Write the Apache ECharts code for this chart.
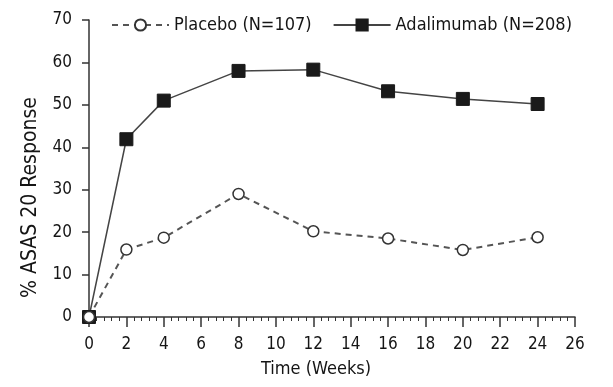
<!DOCTYPE html>
<html>
<head>
<meta charset="utf-8">
<script src="https://cdn.jsdelivr.net/npm/echarts@6/dist/echarts.min.js"></script>
<style>
html,body{margin:0;padding:0;background:#fff;}
#chart{width:613px;height:387px;}
</style>
</head>
<body>
<div id="chart"></div>
<script>
var weeks = [0, 2, 4, 8, 12, 16, 20, 24];
var placebo = [0, 15.9, 18.7, 29.0, 20.2, 18.5, 15.8, 18.8];
var adalimumab = [0, 41.9, 51.0, 58.0, 58.3, 53.2, 51.4, 50.2];
var seriesNames = ['Placebo (N=107)', 'Adalimumab (N=208)'];
var xTitle = 'Time (Weeks)';
var yTitle = '% ASAS 20 Response';

function pairs(xs, ys) { return xs.map(function (x, i) { return [x, ys[i]]; }); }

var FONT = '"DejaVu Sans Condensed", "Liberation Sans", Arial, sans-serif';
var TXT = '#151515';
var chart = echarts.init(document.getElementById('chart'), null, { renderer: 'canvas' });
chart.setOption({
  animation: false,
  backgroundColor: '#fff',
  textStyle: { fontFamily: FONT, color: TXT },
  grid: { left: 89, right: 38, top: 20, bottom: 70, containLabel: false },
  legend: {
    data: seriesNames,
    left: 106, top: 11,
    itemWidth: 57, itemHeight: 14, itemGap: 21,
    textStyle: { fontFamily: FONT, fontSize: 18, color: TXT },
    selectedMode: false
  },
  xAxis: {
    type: 'value', min: 0, max: 26, interval: 2,
    name: xTitle, nameLocation: 'middle', nameGap: 43,
    nameTextStyle: { fontFamily: FONT, fontSize: 18, color: TXT, padding: [0, 32, 0, 0] },
    axisLine: { show: true, lineStyle: { color: '#333', width: 1.5 } },
    axisTick: { show: true, inside: false, length: 10, lineStyle: { color: '#333', width: 1.5 } },
    minorTick: { show: true, splitNumber: 5, length: 4, lineStyle: { color: '#333', width: 1 } },
    axisLabel: { fontFamily: FONT, fontSize: 17, color: TXT, margin: 19 },
    splitLine: { show: false }
  },
  yAxis: {
    type: 'value', min: 0, max: 70, interval: 10,
    name: yTitle, nameLocation: 'middle', nameGap: 48, nameRotate: 90,
    nameTextStyle: { fontFamily: FONT, fontSize: 21, color: TXT, padding: [0, 58, 0, 0] },
    axisLine: { show: true, lineStyle: { color: '#333', width: 1.5 } },
    axisTick: { show: true, inside: false, length: 7, lineStyle: { color: '#333', width: 1.5 } },
    axisLabel: { fontFamily: FONT, fontSize: 17, color: TXT, margin: 17 },
    splitLine: { show: false }
  },
  series: [
    {
      name: seriesNames[1], type: 'line', data: pairs(weeks, adalimumab),
      symbol: 'rect', symbolSize: 13, clip: false,
      lineStyle: { color: '#444', width: 1.5, type: 'solid' },
      itemStyle: { color: '#1a1a1a', borderColor: '#1a1a1a', borderWidth: 1 },
      z: 2
    },
    {
      name: seriesNames[0], type: 'line', data: pairs(weeks, placebo),
      symbol: 'circle', symbolSize: 11, clip: false,
      lineStyle: { color: '#555', width: 2, type: [6, 5] },
      itemStyle: { color: '#fff', borderColor: '#333', borderWidth: 1.5 },
      z: 3
    }
  ]
});
</script>
</body>
</html>
